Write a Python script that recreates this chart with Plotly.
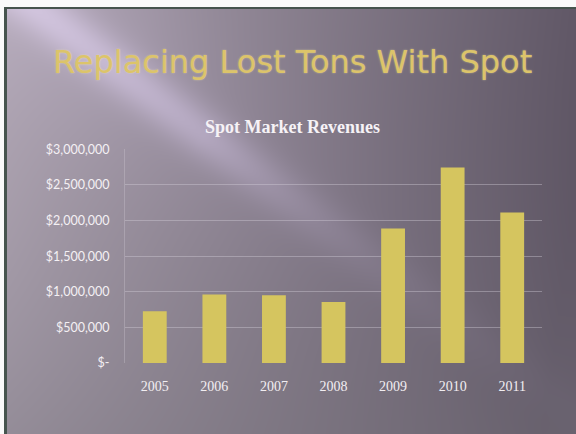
import base64
import struct
import zlib

import numpy as np
import plotly.graph_objects as go

# ---- data -------------------------------------------------------------
years = ["2005", "2006", "2007", "2008", "2009", "2010", "2011"]
revenues = [726000, 961000, 951000, 857000, 1888000, 2744000, 2112000]
tick_values = [0, 500000, 1000000, 1500000, 2000000, 2500000, 3000000]
tick_labels = ["$-", "$500,000", "$1,000,000", "$1,500,000",
               "$2,000,000", "$2,500,000", "$3,000,000"]

W, H = 576, 434
ML, MR, MT, MB = 125, 34, 149, 71
PW, PH = W - ML - MR, H - MT - MB


# ---- slide background (gradient with diagonal light streak) -----------
def png_data_uri(rgb):
    h, w, _ = rgb.shape
    raw = b"".join(b"\x00" + rgb[r].tobytes() for r in range(h))

    def chunk(tag, data):
        c = struct.pack(">I", len(data)) + tag + data
        return c + struct.pack(">I", zlib.crc32(tag + data) & 0xFFFFFFFF)

    png = b"\x89PNG\r\n\x1a\n"
    png += chunk(b"IHDR", struct.pack(">IIBBBBB", w, h, 8, 2, 0, 0, 0))
    png += chunk(b"IDAT", zlib.compress(raw, 9))
    png += chunk(b"IEND", b"")
    return "data:image/png;base64," + base64.b64encode(png).decode()


yy, xx = np.mgrid[0:H, 0:W].astype(float)
t = np.clip((xx * 0.9 + yy * 0.12) / 540.0, 0, 1)
light = np.array([176, 166, 180], float)
dark = np.array([94, 85, 100], float)
img = light[None, None, :] * (1 - t[..., None]) + dark[None, None, :] * t[..., None]
# bottom drifts toward neutral grey
g = np.clip(yy / H, 0, 1)[..., None] ** 2
grey = np.array([120, 116, 124], float)
img = img * (1 - 0.4 * g) + grey * 0.4 * g
# narrow diagonal streak through the chart area
dx, dy = 0.80, 0.60
d = np.abs((xx - 205) * dy - (yy - 135) * dx)
along = (xx - 205) * dx + (yy - 135) * dy
streak = np.exp(-(d / 24.0) ** 2) * np.exp(-np.clip(along, 0, None) / 170.0)
img += streak[..., None] * np.array([30, 28, 36], float)
# faint haze toward the upper-left
d2 = np.abs((xx - 120) * dy - (yy - 60) * dx)
haze = np.exp(-(d2 / 90.0) ** 2) * np.exp(-np.clip((xx - 120) * dx + (yy - 60) * dy, 0, None) / 220.0)
img += haze[..., None] * np.array([8, 7, 10], float)
img = np.clip(img, 0, 255)
# scanned page margin and frame line
img[:7, :, :] = 250
img[:, :4, :] = 250
img[7:9, 4:, :] = [70, 84, 78]
img[7:, 4:7, :] = [70, 84, 78]
bg_uri = png_data_uri(img.astype(np.uint8))

# ---- figure -------------------------------------------------------------
fig = go.Figure(
    go.Bar(
        x=years,
        y=revenues,
        marker=dict(color="#d5c55f", line=dict(width=0)),
        width=0.4,
    )
)

fig.add_layout_image(
    source=bg_uri,
    xref="paper", yref="paper",
    x=-ML / PW, y=1 + MT / PH,
    sizex=W / PW, sizey=H / PH,
    xanchor="left", yanchor="top",
    sizing="stretch", layer="below",
)

fig.add_annotation(
    text="Replacing Lost Tons With Spot",
    xref="paper", yref="paper",
    x=(292 - ML) / PW, y=1 + (MT - 62) / PH,
    xanchor="center", yanchor="middle", showarrow=False,
    font=dict(family="DejaVu Sans, Liberation Sans, sans-serif", size=32,
              color="#dcc46a", shadow="0px 0px 2px rgba(250,235,170,0.55)"),
)
fig.add_annotation(
    text="<b>Spot Market Revenues</b>",
    xref="paper", yref="paper",
    x=(292 - ML) / PW, y=1 + (MT - 127) / PH,
    xanchor="center", yanchor="middle", showarrow=False,
    font=dict(family="Liberation Serif, Times New Roman, serif", size=18, color="#f6f2f6"),
)

fig.update_layout(
    width=W, height=H,
    margin=dict(l=ML, r=MR, t=MT, b=MB, pad=0),
    paper_bgcolor="#7a707c",
    plot_bgcolor="rgba(0,0,0,0)",
    showlegend=False,
    xaxis=dict(
        showgrid=False, showline=False, zeroline=False, ticks="",
        tickfont=dict(family="Liberation Serif, serif", size=14, color="#f2eef2"),
        ticklabelstandoff=13,
    ),
    yaxis=dict(
        range=[0, 3004000],
        tickvals=tick_values, ticktext=tick_labels,
        showgrid=True, gridcolor="rgba(215,210,220,0.38)", gridwidth=1,
        zeroline=False, showline=True, linecolor="rgba(215,210,220,0.3)",
        linewidth=1, ticks="",
        tickfont=dict(family="Lato, Liberation Sans, sans-serif", size=12.5, color="#f4f0f4"),
        ticklabelstandoff=12,
    ),
)

fig.write_html("out.html")
